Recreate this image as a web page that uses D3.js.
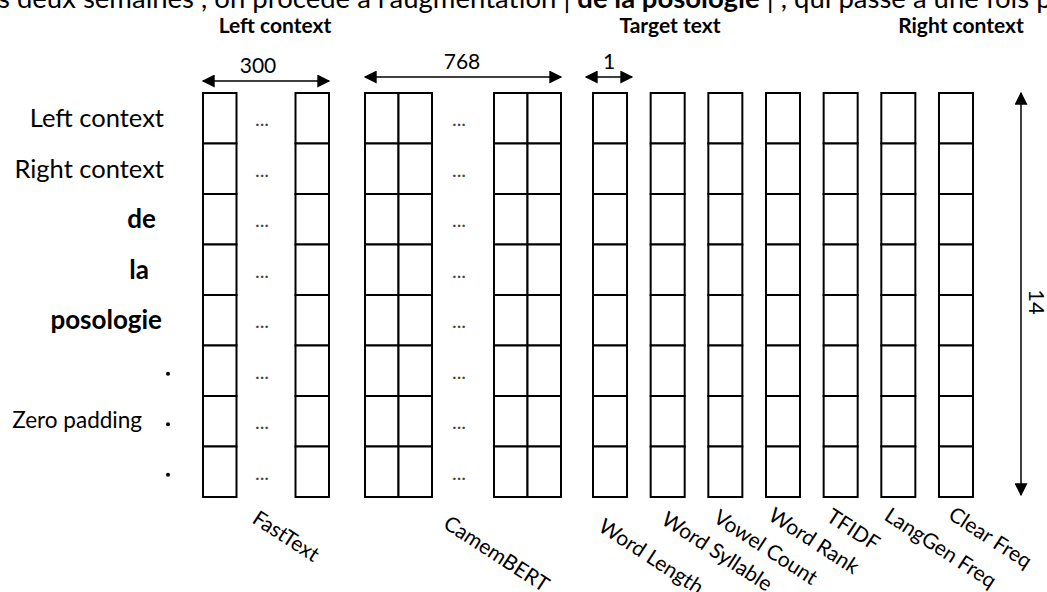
<!DOCTYPE html>
<html>
<head>
<meta charset="utf-8" />
<title>Input representation</title>
<script src="https://d3js.org/d3.v7.min.js"></script>
<style>
  body { margin: 0; background: #fff; }
  text { font-family: Lato, "Open Sans", sans-serif; fill: #000; }
  .cell { fill: #fff; stroke: #000; stroke-width: 2px; }
  .arrow { stroke: #000; stroke-width: 1.5px; fill: none; }
  .ellipsis { fill: #444; font-size: 20px; }
</style>
</head>
<body>
<svg width="1047" height="592"></svg>
<script>
// ---- data ----
var sentenceBefore = "les deux semaines , on procède à l'augmentation | ";
var sentenceTarget = "de la posologie";
var sentenceAfter = " | , qui passe à une fois par jour";
var headers = ["Left context", "Target text", "Right context"];
var rowLabels = ["Left context", "Right context", "de", "la", "posologie", "", "", ""];
var boldRows = [false, false, true, true, true, false, false, false];
var paddingRows = [false, false, false, false, false, true, true, true];
var paddingLabel = "Zero padding";
var embeddings = ["FastText", "CamemBERT"];
var embeddingSizes = ["300", "768"];
var features = ["Word Length", "Word Syllable", "Vowel Count", "Word Rank", "TFIDF", "LangGen Freq", "Clear Freq"];
var featureSize = "1";
var sequenceLength = "14";

// ---- layout ----
var svg = d3.select("svg");
var rows = d3.range(rowLabels.length);
var y = d3.scaleBand().domain(rows).range([93, 497]);
var xf = d3.scaleBand().domain(features).range([593, 973]).paddingInner(0.41);
var cw = 33.5;
var angle = 33;
var blocks = [
  { name: embeddings[0], size: embeddingSizes[0], x0: 203, x1: 329, n: 1, lab: [251, 522], num: 258 },
  { name: embeddings[1], size: embeddingSizes[1], x0: 365, x1: 561, n: 2, lab: [442, 527], num: 462 }
];
var featLab = [[597, 530], [660, 523], [712, 521], [767, 519], [825, 520], [883, 519], [947, 518]];

// arrow marker
var defs = svg.append("defs");
defs.append("marker").attr("id", "head").attr("viewBox", "0 0 10 10")
  .attr("refX", 9).attr("refY", 5).attr("markerWidth", 16).attr("markerHeight", 13)
  .attr("markerUnits", "userSpaceOnUse").attr("orient", "auto-start-reverse")
  .append("path").attr("d", "M0,0L10,5L0,10Z").attr("fill", "#000");

function arrow(x1, y1, x2, y2) {
  svg.append("line").attr("class", "arrow")
    .attr("x1", x1).attr("y1", y1).attr("x2", x2).attr("y2", y2)
    .attr("marker-start", "url(#head)").attr("marker-end", "url(#head)");
}

// sentence on top (clipped by the page edge)
var sent = svg.append("text").attr("y", 8).style("font-size", "27.5px");
sent.append("tspan").text(sentenceBefore);
sent.append("tspan").style("font-weight", "bold").text(sentenceTarget);
sent.append("tspan").text(sentenceAfter);
var lead = sent.node().getSubStringLength(0, 2);
sent.attr("x", -lead - 2);

// headers
svg.selectAll(".hdr").data(headers).join("text").attr("class", "hdr")
  .attr("x", function (d, i) { return [275, 670, 961][i]; })
  .attr("y", 33).attr("text-anchor", "middle")
  .style("font-weight", "bold").style("font-size", "21px").text(function (d) { return d; });

// embedding blocks
blocks.forEach(function (b) {
  var cols = [];
  for (var k = 0; k < b.n; k++) { cols.push(b.x0 + k * cw); cols.push(b.x1 - (b.n - k) * cw); }
  var g = svg.append("g");
  cols.forEach(function (cx) {
    g.selectAll(null).data(rows).join("rect").attr("class", "cell")
      .attr("x", cx).attr("y", function (r) { return y(r); })
      .attr("width", cw).attr("height", y.bandwidth());
  });
  var mid = (b.x0 + b.x1) / 2;
  g.selectAll(null).data(rows).join("text").attr("class", "ellipsis")
    .attr("x", mid - 4).attr("y", function (r) { return y(r) + y.bandwidth() / 2 + 8; })
    .attr("text-anchor", "middle").text("...");
  var ay = b.n == 1 ? 81 : 77;
  arrow(b.x0, ay, b.x1, ay);
  svg.append("text").attr("x", b.num).attr("y", ay - 8)
    .attr("text-anchor", "middle").style("font-size", "21px").text(b.size);
  svg.append("text").attr("transform", "translate(" + b.lab[0] + "," + b.lab[1] + ") rotate(" + angle + ")")
    .style("font-size", "21px").text(b.name);
});

// feature columns
features.forEach(function (f, i) {
  svg.append("g").selectAll("rect").data(rows).join("rect").attr("class", "cell")
    .attr("x", xf(f)).attr("y", function (r) { return y(r); })
    .attr("width", xf.bandwidth()).attr("height", y.bandwidth());
  svg.append("text").attr("transform", "translate(" + featLab[i][0] + "," + featLab[i][1] + ") rotate(" + angle + ")")
    .style("font-size", "21px").text(f);
});
arrow(586, 77, 632, 77);
svg.append("text").attr("x", 609).attr("y", 69).attr("text-anchor", "middle")
  .style("font-size", "21px").text(featureSize);

// sequence length arrow
arrow(1021, 93, 1021, 495);
svg.append("text").attr("transform", "translate(1029,302) rotate(90)")
  .attr("text-anchor", "middle").style("font-size", "22px").text(sequenceLength);

// row labels
var labEnd = [164, 164, 156, 149, 162];
svg.selectAll(".rl").data(rows.filter(function (r) { return rowLabels[r] != ""; })).join("text")
  .attr("class", "rl")
  .attr("x", function (r) { return labEnd[r]; })
  .attr("y", function (r) { return y(r) + y.bandwidth() / 2 + 9; })
  .attr("text-anchor", "end")
  .style("font-size", function (r) { return boldRows[r] ? "26px" : "25.5px"; })
  .style("font-weight", function (r) { return boldRows[r] ? "bold" : "normal"; })
  .text(function (r) { return rowLabels[r]; });

svg.selectAll(".pd").data(rows.filter(function (r) { return paddingRows[r]; })).join("circle")
  .attr("class", "pd").attr("cx", 168)
  .attr("cy", function (r) { return y(r) + y.bandwidth() / 2 + 3; }).attr("r", 2);
svg.append("text").attr("x", 142).attr("y", y(6) + y.bandwidth() / 2 + 7)
  .attr("text-anchor", "end").style("font-size", "22.5px").text(paddingLabel);
</script>
</body>
</html>
